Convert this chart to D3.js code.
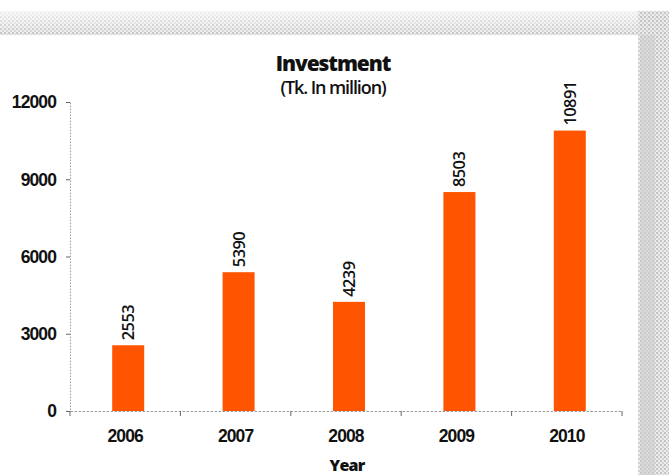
<!DOCTYPE html>
<html>
<head>
<meta charset="utf-8">
<script src="https://cdn.jsdelivr.net/npm/d3@7"></script>
<style>
  html, body { margin: 0; padding: 0; background: #fff; }
  svg { display: block; font-family: "Open Sans", "Noto Sans", sans-serif; }
</style>
</head>
<body>
<svg id="chart" width="669" height="475"></svg>
<script>
// Annual investment, Tk. in million
const years = ["2006", "2007", "2008", "2009", "2010"];
const investment = [2553, 5390, 4239, 8503, 10891];
const yTicks = [0, 3000, 6000, 9000, 12000];

const svg = d3.select("#chart");
const W = 669, H = 475;

// Dotted frame shading along the top and right edges
const defs = svg.append("defs");
const pat = defs.append("pattern")
  .attr("id", "dots").attr("patternUnits", "userSpaceOnUse")
  .attr("width", 4).attr("height", 4);
pat.append("rect").attr("width", 4).attr("height", 4).attr("fill", "#ececec");
pat.append("rect").attr("x", 0).attr("y", 0).attr("width", 2).attr("height", 2).attr("fill", "#c4c4c4");
pat.append("rect").attr("x", 2).attr("y", 2).attr("width", 2).attr("height", 2).attr("fill", "#d2d2d2");

const grad = defs.append("linearGradient").attr("id", "fadeTop")
  .attr("x1", 0).attr("y1", 0).attr("x2", 0).attr("y2", 1);
grad.append("stop").attr("offset", "0%").attr("stop-color", "#fff").attr("stop-opacity", 0.75);
grad.append("stop").attr("offset", "100%").attr("stop-color", "#fff").attr("stop-opacity", 0);

svg.append("rect").attr("x", 0).attr("y", 11).attr("width", 652).attr("height", 24).attr("fill", "url(#dots)");
svg.append("rect").attr("x", 0).attr("y", 11).attr("width", 652).attr("height", 24).attr("fill", "url(#fadeTop)");
svg.append("rect").attr("x", 638).attr("y", 11).attr("width", 31).attr("height", H - 11).attr("fill", "url(#dots)");
svg.append("rect").attr("x", 640).attr("y", 35).attr("width", 15).attr("height", H - 35).attr("fill", "#cfcfcf").attr("opacity", 0.6);
// white chart panel
svg.append("rect").attr("x", 0).attr("y", 35).attr("width", 638).attr("height", H - 35).attr("fill", "#fff");

// Scales
const x = d3.scaleBand().domain(years).range([70, 622]).paddingInner(0).paddingOuter(0);
const y = d3.scaleLinear().domain([0, 12000]).range([411, 102]);
const barW = 32;

// Y axis
const yAxis = d3.axisLeft(y).tickValues(yTicks).tickSize(4).tickPadding(8).tickFormat(d3.format("d"));
const gy = svg.append("g").attr("transform", "translate(70,0)").call(yAxis);
gy.select(".domain").attr("stroke", "#9a9a9a").attr("stroke-dasharray", "1.5,1.5");
gy.selectAll(".tick line").attr("stroke", "#666");
gy.selectAll(".tick text").attr("fill", "#111").attr("font-size", 17.5).attr("font-weight", 700)
  .attr("letter-spacing", "-0.9").attr("x", -14).attr("dy", "0.34em");

// Bars
svg.append("g").selectAll("rect").data(years).join("rect")
  .attr("x", (d) => x(d) + x.bandwidth() / 2 - barW / 2 + 3)
  .attr("width", barW)
  .attr("y", (d, i) => y(investment[i]))
  .attr("height", (d, i) => y(0) - y(investment[i]))
  .attr("fill", "#ff5500");

// X axis
const xAxis = d3.axisBottom(x).tickSize(0).tickPadding(19);
const gx = svg.append("g").attr("transform", "translate(0,411)").call(xAxis);
gx.select(".domain").attr("stroke", "#9a9a9a").attr("stroke-dasharray", "2.5,1.5");
gx.selectAll(".tick text").attr("fill", "#111").attr("font-size", 17.5).attr("font-weight", 700)
  .attr("letter-spacing", "-0.9");
// boundary ticks between years
const bounds = years.map((d) => x(d)).concat([x.range()[1]]);
gx.selectAll("line.bound").data(bounds).join("line").attr("class", "bound")
  .attr("x1", (d) => d).attr("x2", (d) => d).attr("y1", 0).attr("y2", 5)
  .attr("stroke", "#666");

// Value labels above the bars
svg.append("g").selectAll("text").data(years).join("text")
  .attr("transform", (d, i) => {
    const cx = x(d) + x.bandwidth() / 2 + 3 + 6;
    const ty = y(investment[i]) - 5;
    return `translate(${cx},${ty}) rotate(-90)`;
  })
  .attr("text-anchor", "start")
  .attr("font-size", 16.5).attr("font-weight", 600).attr("fill", "#111")
  .attr("letter-spacing", "-0.6")
  .text((d, i) => investment[i]);

// Title and unit
svg.append("text").attr("x", 333).attr("y", 71).attr("text-anchor", "middle")
  .attr("font-size", 21).attr("font-weight", 800).attr("letter-spacing", "-1.1").attr("fill", "#111")
  .text("Investment");
svg.append("text").attr("x", 333).attr("y", 94).attr("text-anchor", "middle")
  .attr("font-size", 18).attr("font-weight", 600).attr("letter-spacing", "-1.1").attr("fill", "#111")
  .text("(Tk. In million)");

// Axis title
svg.append("text").attr("x", 347).attr("y", 471).attr("text-anchor", "middle")
  .attr("font-size", 16).attr("font-weight", 800).attr("letter-spacing", "-0.8").attr("fill", "#111")
  .text("Year");
</script>
</body>
</html>
